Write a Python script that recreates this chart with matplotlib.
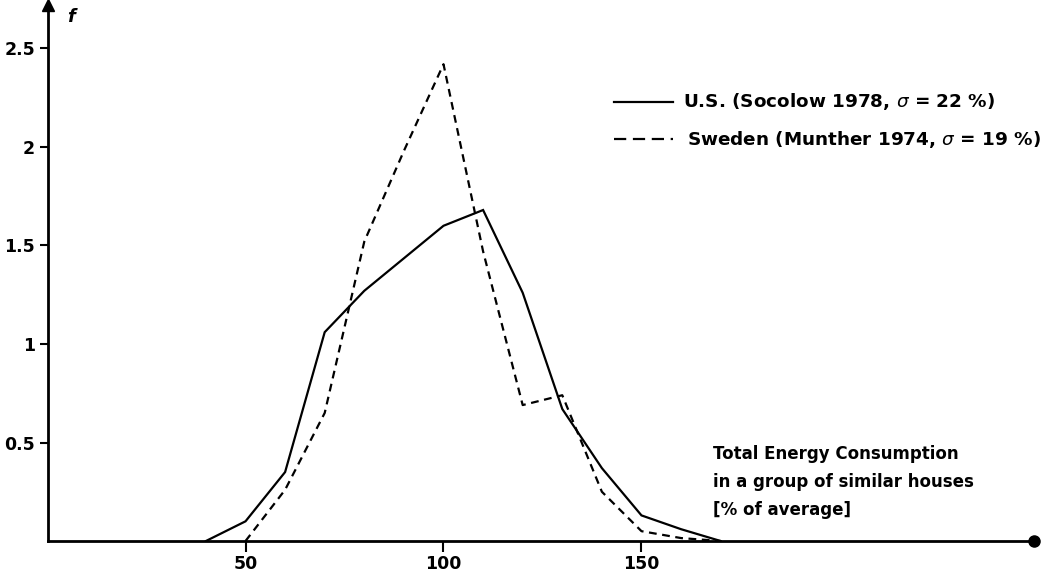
import matplotlib
matplotlib.use('Agg')
import matplotlib.pyplot as plt

# energy consumption (% of average) and frequency f
us_x = [40, 50, 60, 70, 80, 100, 110, 120, 130, 140, 150, 160, 170]
us_f = [0, 0.10, 0.35, 1.06, 1.27, 1.60, 1.68, 1.26, 0.67, 0.37, 0.13, 0.06, 0]
sw_x = [50, 60, 70, 80, 90, 100, 110, 120, 130, 140, 150, 160, 170]
sw_f = [0, 0.26, 0.65, 1.52, 1.98, 2.42, 1.47, 0.69, 0.74, 0.25, 0.05, 0.015, 0]
xticks = [50, 100, 150]
yticks = [0.5, 1, 1.5, 2, 2.5]
ytick_labels = ['0.5', '1', '1.5', '2', '2.5']

plt.rcParams['font.family'] = 'DejaVu Sans'
fig = plt.figure(figsize=(10.49, 5.8), dpi=100)
ax = fig.add_axes([0.0453, 0.0672, 0.9437, 0.924])

ax.plot(us_x, us_f, color='black', lw=1.6, solid_joinstyle='miter')
ax.plot(sw_x, sw_f, color='black', lw=1.6, dashes=(3.5, 2.5))

ax.set_xlim(0, 250)
ax.set_ylim(0, 2.72)
for s in ['top', 'right']:
    ax.spines[s].set_visible(False)
ax.spines['left'].set_linewidth(2)
ax.spines['bottom'].set_linewidth(2)
ax.set_xticks(xticks)
ax.set_yticks(yticks)
ax.set_yticklabels(ytick_labels)
ax.tick_params(axis='x', length=8, width=1.5, labelsize=12.5, pad=2)
ax.tick_params(axis='y', length=6, width=1.5, labelsize=12.5, pad=3)
for lbl in ax.get_xticklabels() + ax.get_yticklabels():
    lbl.set_fontweight('bold')

# arrow on y-axis, dot at end of x-axis
ax.plot([0], [2.72], marker='^', ms=9, color='black', clip_on=False)
ax.plot([249], [0], marker='o', ms=8, color='black', clip_on=False)
ax.text(5, 2.66, 'f', fontsize=13, fontweight='bold', style='italic', va='center')

# legend drawn by hand
ax.plot([143, 158], [2.23, 2.23], color='black', lw=1.6, clip_on=False)
ax.text(160.5, 2.23, 'U.S. (Socolow 1978, $\\sigma$ = 22 %)', fontsize=13.2,
        fontweight='bold', va='center')
ax.plot([143, 158], [2.04, 2.04], color='black', lw=1.6, dashes=(5.5, 3), clip_on=False)
ax.text(161.5, 2.04, 'Sweden (Munther 1974, $\\sigma$ = 19 %)', fontsize=13.2,
        fontweight='bold', va='center')

ax.text(168, 0.30, 'Total Energy Consumption\nin a group of similar houses\n[% of average]',
        fontsize=12, fontweight='bold', va='center', ha='left', linespacing=1.7)

fig.savefig('out.png', dpi=100)
